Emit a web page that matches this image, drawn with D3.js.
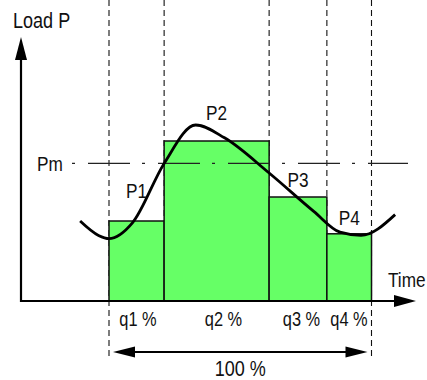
<!DOCTYPE html>
<html>
<head>
<meta charset="utf-8">
<script src="https://cdn.jsdelivr.net/npm/d3@7"></script>
<style>
  html, body { margin: 0; padding: 0; background: #fff; }
  svg { display: block; }
  text { font-family: "Liberation Sans", Arial, sans-serif; fill: #111; }
</style>
</head>
<body>
<div id="chart"></div>
<script>
// ---- data ----
const shareLabels = ["q1 %", "q2 %", "q3 %", "q4 %"];
const loadLabels = ["P1", "P2", "P3", "P4"];
const shares = [21, 40, 22, 17];        // % of time
const loads = [50, 100, 65, 42];        // block load levels
const meanLoad = 86;                     // Pm
const curveTime = [-11, -4, 0, 9, 21, 33, 44, 61, 78, 88, 96, 109];
const curveLoad = [50, 41, 39, 49, 86, 110, 102, 80, 56, 43, 41, 54];
const axisLabels = { y: "Load P", x: "Time", mean: "Pm", total: "100 %" };

// ---- layout ----
const W = 427, H = 380;
const x = d3.scaleLinear().domain([0, 100]).range([109, 371.5]);
const y = d3.scaleLinear().domain([0, 100]).range([301, 141]);
const originX = 21, originY = y(0);
const labelDy = [-23, -21, -10, -9];
const narrow = 0.82;

const svg = d3.select("#chart").append("svg").attr("width", W).attr("height", H);

function label(g, px, py, size, str, anchor) {
  return g.append("text")
    .attr("transform", `translate(${px},${py}) scale(${narrow},1)`)
    .attr("text-anchor", anchor || "start")
    .attr("font-size", size).text(str);
}

// boundaries
const bounds = [0];
shares.forEach((s, i) => bounds.push(bounds[i] + s));
const blocks = shares.map((s, i) => ({ t0: bounds[i], t1: bounds[i + 1], p: loads[i], label: loadLabels[i], q: shareLabels[i], dy: labelDy[i] }));

// vertical dashed lines
svg.append("g").selectAll("line").data(bounds).join("line")
  .attr("x1", d => x(d)).attr("x2", d => x(d))
  .attr("y1", 0)
  .attr("y2", (d, i) => (i === 0 || i === bounds.length - 1) ? 360 : originY)
  .attr("stroke", "#111").attr("stroke-width", 1.1).attr("stroke-dasharray", "6,4");

// bars
svg.append("g").selectAll("rect").data(blocks).join("rect")
  .attr("x", d => x(d.t0)).attr("width", d => x(d.t1) - x(d.t0))
  .attr("y", d => y(d.p)).attr("height", d => y(0) - y(d.p))
  .attr("fill", "#66ff66").attr("stroke", "#111").attr("stroke-width", 1.5);

// mean line
svg.append("line")
  .attr("x1", 72).attr("x2", 408)
  .attr("y1", y(meanLoad)).attr("y2", y(meanLoad))
  .attr("stroke", "#222").attr("stroke-width", 1.4)
  .attr("stroke-dasharray", "3,13,42,12");
label(svg, 37, y(meanLoad) + 8, 21, axisLabels.mean);

// load curve
const line = d3.line().x(d => x(d[0])).y(d => y(d[1])).curve(d3.curveMonotoneX);
svg.append("path").datum(curveTime.map((t, i) => [t, curveLoad[i]]))
  .attr("d", line).attr("fill", "none").attr("stroke", "#000").attr("stroke-width", 2.8);

// block labels
const gl = svg.append("g");
blocks.forEach(d => label(gl, (x(d.t0) + x(d.t1)) / 2, y(d.p) + d.dy, 21, d.label, "middle"));

// share labels
const qCenters = [138, 223.5, 301.5, 349];
const gq = svg.append("g");
blocks.forEach((d, i) => label(gq, qCenters[i], 326, 20, d.q, "middle"));

// axes
svg.append("line").attr("x1", originX).attr("x2", originX).attr("y1", originY + 1).attr("y2", 55)
  .attr("stroke", "#000").attr("stroke-width", 2.2);
svg.append("path").attr("d", `M${originX},37 L${originX - 6},60 L${originX + 6},60 Z`).attr("fill", "#000");
svg.append("line").attr("x1", originX - 1).attr("x2", 400).attr("y1", originY).attr("y2", originY)
  .attr("stroke", "#000").attr("stroke-width", 2.2);
svg.append("path").attr("d", `M416,${originY} L394,${originY - 6} L394,${originY + 6} Z`).attr("fill", "#000");

label(svg, 13, 28, 22, axisLabels.y);
label(svg, 388, 287, 21, axisLabels.x);

// total double arrow
const ay = 352;
svg.append("line").attr("x1", x(0) + 15).attr("x2", x(100) - 15).attr("y1", ay).attr("y2", ay)
  .attr("stroke", "#000").attr("stroke-width", 2);
svg.append("path").attr("d", `M${x(0) + 4},${ay} L${x(0) + 26},${ay - 5.5} L${x(0) + 26},${ay + 5.5} Z`).attr("fill", "#000");
svg.append("path").attr("d", `M${x(100) - 4},${ay} L${x(100) - 26},${ay - 5.5} L${x(100) - 26},${ay + 5.5} Z`).attr("fill", "#000");
label(svg, (x(0) + x(100)) / 2, 376, 22, axisLabels.total, "middle");
</script>
</body>
</html>
